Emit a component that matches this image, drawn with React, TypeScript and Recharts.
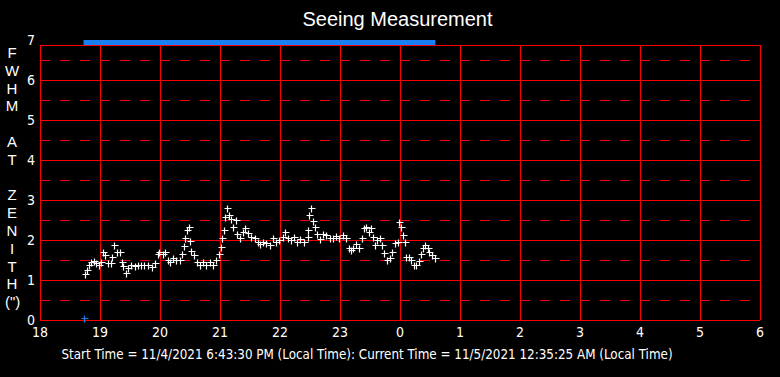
import {
  ComposedChart,
  Scatter,
  XAxis,
  YAxis,
  ReferenceLine,
} from "recharts";

// hours since midnight of 11/4 (values past 24 wrap to next day)
const TIMES = [
  18.755, 18.79, 18.81, 18.855, 18.9, 18.94, 18.98, 19.01, 19.05, 19.09,
  19.13, 19.18, 19.2, 19.23, 19.29, 19.33, 19.37, 19.39, 19.43, 19.47,
  19.51, 19.58, 19.63, 19.69, 19.74, 19.8, 19.86, 19.91, 19.96, 19.99,
  20.05, 20.09, 20.13, 20.16, 20.22, 20.27, 20.33, 20.37, 20.4, 20.42,
  20.45, 20.48, 20.5, 20.52, 20.57, 20.62, 20.66, 20.72, 20.77, 20.83,
  20.88, 20.94, 20.98, 21.01, 21.04, 21.07, 21.09, 21.12, 21.15, 21.19,
  21.22, 21.26, 21.29, 21.33, 21.38, 21.42, 21.47, 21.52, 21.58, 21.63,
  21.66, 21.72, 21.77, 21.83, 21.88, 21.94, 21.99, 22.05, 22.09, 22.13,
  22.19, 22.23, 22.29, 22.34, 22.4, 22.46, 22.47, 22.49, 22.52, 22.55,
  22.58, 22.62, 22.66, 22.72, 22.77, 22.83, 22.88, 22.94, 22.99, 23.05,
  23.1, 23.15, 23.18, 23.22, 23.27, 23.31, 23.36, 23.4, 23.44, 23.48,
  23.51, 23.55, 23.58, 23.62, 23.66, 23.7, 23.74, 23.79, 23.83, 23.87,
  23.91, 23.96, 23.99, 24.02, 24.05, 24.08, 24.1, 24.15, 24.19, 24.23,
  24.27, 24.31, 24.35, 24.38, 24.42, 24.46, 24.49, 24.53, 24.58,
];

const FWHM = [
  1.14, 1.25, 1.37, 1.46, 1.47, 1.42, 1.37, 1.46, 1.69, 1.62,
  1.42, 1.42, 1.58, 1.87, 1.69, 1.69, 1.46, 1.35, 1.17, 1.31,
  1.37, 1.36, 1.37, 1.37, 1.37, 1.37, 1.33, 1.42, 1.64, 1.71,
  1.64, 1.71, 1.5, 1.46, 1.56, 1.5, 1.5, 1.64, 1.86, 2.06,
  2.25, 2.33, 1.98, 1.72, 1.62, 1.46, 1.37, 1.46, 1.37, 1.46,
  1.37, 1.5, 1.64, 1.83, 2.04, 2.25, 2.58, 2.81, 2.63, 2.53,
  2.33, 2.5, 2.14, 2.04, 2.19, 2.29, 2.17, 2.08, 2.04, 1.96,
  1.89, 1.96, 1.92, 1.87, 2.06, 1.96, 2.0, 2.08, 2.19, 2.04,
  2.0, 2.08, 1.96, 2.03, 1.96, 2.08, 2.25, 2.63, 2.81, 2.48,
  2.33, 2.14, 2.03, 2.14, 2.12, 2.04, 2.04, 2.11, 2.06, 2.12,
  2.04, 1.79, 1.75, 1.81, 1.89, 1.79, 2.06, 2.29, 2.33, 2.21,
  2.29, 2.08, 1.87, 2.0, 2.06, 1.87, 1.67, 1.5, 1.54, 1.71,
  1.92, 1.96, 2.46, 2.33, 2.12, 1.96, 1.58, 1.58, 1.5, 1.37,
  1.37, 1.47, 1.64, 1.79, 1.87, 1.81, 1.71, 1.62, 1.54,
];

const X_TICKS = [18, 19, 20, 21, 22, 23, 24, 25, 26, 27, 28, 29, 30];
const Y_TICKS = [0, 1, 2, 3, 4, 5, 6, 7];
const HALF_LINES = [0.5, 1.5, 2.5, 3.5, 4.5, 5.5, 6.5];
const SOLID_LINES = [0, 1, 2, 3, 4, 5, 6, 6.875];

const START_HOUR = 18.725;
const CURRENT_HOUR = 24.59;
const BAR_LEVEL = 6.94;
const START_MARK = [{ x: START_HOUR, y: 0.05 }];

const Y_LABEL = ["F", "W", "H", "M", "", "A", "T", "", "Z", "E", "N", "I", "T", "H", "(\")"];
const FOOTER =
  "Start Time = 11/4/2021 6:43:30 PM (Local Time): Current Time = 11/5/2021 12:35:25 AM (Local Time)";

const RED = "#ff0000";
const BLUE = "#1a7ff0";
const NARROW = "'Liberation Sans Narrow', 'DejaVu Sans Condensed', sans-serif";

const points = TIMES.map((t, i) => ({ x: t, y: FWHM[i] }));

function Plus({ cx, cy, color }: { cx?: number; cy?: number; color: string }) {
  if (cx == null || cy == null) return null;
  const x = Math.round(cx) + 0.5;
  const y = Math.round(cy) + 0.5;
  return (
    <path
      d={`M${x - 3},${y}H${x + 4}M${x},${y - 3}V${y + 4}`}
      stroke={color}
      strokeWidth={1.2}
      fill="none"
    />
  );
}

export default function App() {
  return (
    <div
      style={{
        position: "fixed",
        left: 0,
        top: 0,
        width: 780,
        height: 377,
        background: "#000",
        color: "#fff",
      }}
    >
      <div
        style={{
          position: "absolute",
          top: 7,
          left: 0,
          width: 795,
          textAlign: "center",
          fontFamily: "'Liberation Sans', Arial, sans-serif",
          fontSize: 20,
          lineHeight: "24px",
        }}
      >
        Seeing Measurement
      </div>
      <div
        style={{
          position: "absolute",
          top: 44,
          left: 5,
          width: 14,
          textAlign: "center",
          fontFamily: "'Liberation Sans', Arial, sans-serif",
          fontSize: 15,
          lineHeight: "17.8px",
          whiteSpace: "pre",
        }}
      >
        {Y_LABEL.join("\n")}
      </div>
      <div
        style={{
          position: "absolute",
          top: 346,
          left: 0,
          width: 734,
          textAlign: "center",
          fontFamily: NARROW,
          fontSize: 13.3,
          lineHeight: "18px",
        }}
      >
        {FOOTER}
      </div>
      <ComposedChart
        width={780}
        height={377}
        margin={{ top: 40, right: 20, bottom: 0, left: 0 }}
        style={{ position: "absolute", left: 0, top: 0 }}
      >
        <XAxis
          type="number"
          dataKey="x"
          domain={[18, 30]}
          ticks={X_TICKS}
          interval={0}
          height={57}
          tickLine={false}
          axisLine={false}
          tickSize={0}
          tickMargin={7}
          tickFormatter={(v: number) => String(v % 24)}
          tick={{ fill: "#fff", fontSize: 14, fontFamily: NARROW }}
        />
        <YAxis
          type="number"
          dataKey="y"
          domain={[0, 7]}
          ticks={Y_TICKS}
          interval={0}
          width={40}
          tickLine={false}
          axisLine={false}
          tickSize={0}
          tickMargin={5}
          tick={{ fill: "#fff", fontSize: 14, fontFamily: NARROW }}
        />
        {HALF_LINES.map((v) => (
          <ReferenceLine
            key={`h${v}`}
            segment={[
              { x: 18, y: v },
              { x: 30, y: v },
            ]}
            stroke={RED}
            strokeWidth={1}
            strokeDasharray="10 10"
            shapeRendering="crispEdges"
            ifOverflow="visible"
          />
        ))}
        {SOLID_LINES.map((v) => (
          <ReferenceLine
            key={`s${v}`}
            segment={[
              { x: 18, y: v },
              { x: 30, y: v },
            ]}
            stroke={RED}
            strokeWidth={1}
            shapeRendering="crispEdges"
            ifOverflow="visible"
          />
        ))}
        {X_TICKS.map((h) => (
          <ReferenceLine
            key={`v${h}`}
            segment={[
              { x: h, y: 0 },
              { x: h, y: 6.875 },
            ]}
            stroke={RED}
            strokeWidth={1}
            shapeRendering="crispEdges"
            ifOverflow="visible"
          />
        ))}
        <ReferenceLine
          segment={[
            { x: START_HOUR, y: BAR_LEVEL },
            { x: CURRENT_HOUR, y: BAR_LEVEL },
          ]}
          stroke={BLUE}
          strokeWidth={5}
          ifOverflow="visible"
        />
        <Scatter
          data={START_MARK}
          isAnimationActive={false}
          shape={(p: any) => <Plus cx={p.cx} cy={p.cy} color={BLUE} />}
        />
        <Scatter
          data={points}
          isAnimationActive={false}
          shape={(p: any) => <Plus cx={p.cx} cy={p.cy} color="#fff" />}
        />
      </ComposedChart>
    </div>
  );
}
